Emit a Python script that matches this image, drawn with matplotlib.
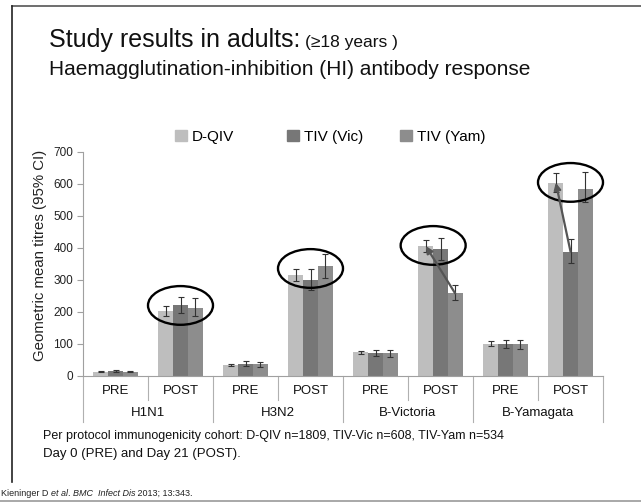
import numpy as np
import matplotlib
matplotlib.use('Agg')
import matplotlib.pyplot as plt
from matplotlib.patches import Ellipse, Patch
from matplotlib.lines import Line2D
import matplotlib.transforms as mtransforms

plt.rcParams['font.family'] = ['Liberation Sans', 'DejaVu Sans']

# data
cats = ['PRE', 'POST'] * 4
groups = ['H1N1', 'H3N2', 'B-Victoria', 'B-Yamagata']
series = ['D-QIV', 'TIV (Vic)', 'TIV (Yam)']

dqiv = [14, 203, 33, 316, 74, 406, 101, 604]
dqiv_lo = [12, 189, 30, 298, 69, 389, 94, 575]
dqiv_hi = [16, 219, 36, 334, 79, 425, 109, 635]
vic = [16, 221, 38, 300, 73, 396, 101, 389]
vic_lo = [13, 196, 31, 269, 64, 362, 87, 352]
vic_hi = [18, 248, 46, 333, 82, 430, 113, 427]
yam = [14, 213, 36, 343, 72, 258, 101, 583]
yam_lo = [12, 187, 29, 305, 60, 238, 84, 545]
yam_hi = [16, 243, 43, 382, 80, 285, 112, 637]

colors = ['#bebebe', '#777777', '#8d8d8d']

# circled bars: (category index, which series)
circled = [(1, [0, 1, 2]), (3, [0, 1, 2]), (5, [0, 1]), (7, [0, 2])]
# arrows: (category index, from series, to series)
arrows = [(5, 2, 0), (7, 1, 0)]

fig = plt.figure(figsize=(6.41, 5.03), dpi=100)
ax = fig.add_axes([83/641, 1-376/503, 520/641, 224/503])

x = np.arange(len(cats))
w = 0.226
vals = [dqiv, vic, yam]
los = [dqiv_lo, vic_lo, yam_lo]
his = [dqiv_hi, vic_hi, yam_hi]
for i in range(3):
    v = np.array(vals[i])
    err = [v - np.array(los[i]), np.array(his[i]) - v]
    ax.bar(x + (i-1)*w, v, w, color=colors[i], label=series[i], zorder=2)
    ax.errorbar(x + (i-1)*w, v, yerr=err, fmt='none', ecolor='#333333',
                elinewidth=0.8, capsize=2, capthick=0.8, zorder=3)

for idx, which in circled:
    xs = [idx + (i-1)*w for i in which]
    tops = [vals[i][idx] for i in which]
    caps = [his[i][idx] for i in which]
    cy = (min(tops) + max(caps)) / 2 - 5
    ax.add_patch(Ellipse((np.mean(xs), cy), 1.0, 121, fill=False,
                         ec='black', lw=1.7, zorder=4, clip_on=False))

for idx, a, b in arrows:
    ax.annotate('', xy=(idx + (b-1)*w, vals[b][idx]), xytext=(idx + (a-1)*w, vals[a][idx]),
                arrowprops=dict(arrowstyle='-|>', color='#555555', lw=1.6,
                                mutation_scale=10, shrinkA=0, shrinkB=0), zorder=5)

ax.set_xlim(-0.5, 7.5)
ax.set_ylim(0, 700)
ax.set_yticks(range(0, 701, 100))
ax.tick_params(axis='y', labelsize=8.5, length=4, color='#a0a0a0', labelcolor='#222222', pad=3)
ax.set_xticks([])
for s in ['top', 'right']:
    ax.spines[s].set_visible(False)
for s in ['left', 'bottom']:
    ax.spines[s].set_color('#a0a0a0')
    ax.spines[s].set_linewidth(0.8)

# two-level category axis
tr = mtransforms.blended_transform_factory(ax.transData, ax.transAxes)
for b in np.arange(-0.5, 8, 1):
    long_line = (b + 0.5) % 2 == 0
    y2 = -0.205 if long_line else -0.107
    ax.add_line(Line2D([b, b], [0, y2], transform=tr, color='#b0b0b0', lw=0.8, clip_on=False))
for i, c in enumerate(cats):
    ax.text(i, -0.067, c, transform=tr, ha='center', va='center', fontsize=9.5, color='#111111')
for g, name in enumerate(groups):
    ax.text(2*g + 0.5, -0.163, name, transform=tr, ha='center', va='center', fontsize=9.5, color='#111111')

fig.text(40/641, 1-255/503, 'Geometric mean titres (95% CI)', rotation=90, ha='center', va='center',
         fontsize=10.8, color='#222222')

# legend entries, one per series
leg_x = [175, 287, 400]
for i in range(3):
    lg = fig.legend(handles=[Patch(color=colors[i], label=series[i])], loc='center left',
                    bbox_to_anchor=(leg_x[i]/641, 1-137/503), frameon=False, fontsize=11,
                    handlelength=0.8, handleheight=0.75, handletextpad=0.3,
                    borderpad=0, borderaxespad=0)

# slide titles
fig.text(49/641, 1-47/503, 'Study results in adults:', fontsize=18, va='baseline', color='#111111')
fig.text(305/641, 1-47/503, '(\u226518 years )', fontsize=12.5, va='baseline', color='#111111')
fig.text(49/641, 1-75/503, 'Haemagglutination-inhibition (HI) antibody response', fontsize=15,
         va='baseline', color='#111111')

fig.text(43/641, 1-439/503, 'Per protocol immunogenicity cohort: D-QIV n=1809, TIV-Vic n=608, TIV-Yam n=534',
         fontsize=9, va='baseline', color='#111111')
fig.text(43/641, 1-457/503, 'Day 0 (PRE) and Day 21 (POST).', fontsize=9.5, va='baseline', color='#111111')

# citation with italic parts
r = fig.canvas.get_renderer()
xpos = 1
for txt, style in [('Kieninger D ', 'normal'), ('et al', 'italic'), ('. ', 'normal'),
                   ('BMC  Infect Dis', 'italic'), (' 2013; 13:343.', 'normal')]:
    t = fig.text(xpos/641, 1-496/503, txt, fontsize=6.5, style=style, va='baseline', color='#222222')
    xpos += t.get_window_extent(r).width

# slide frame
fig.add_artist(Line2D([12/641, 1], [1-6/503, 1-6/503], color='#555555', lw=1.2))
fig.add_artist(Line2D([12/641, 12/641], [1-6/503, 1-482/503], color='#222222', lw=1.2))
fig.add_artist(Line2D([0, 1], [1-501/503, 1-501/503], color='#999999', lw=1.2))

fig.savefig('out.png', dpi=100)
